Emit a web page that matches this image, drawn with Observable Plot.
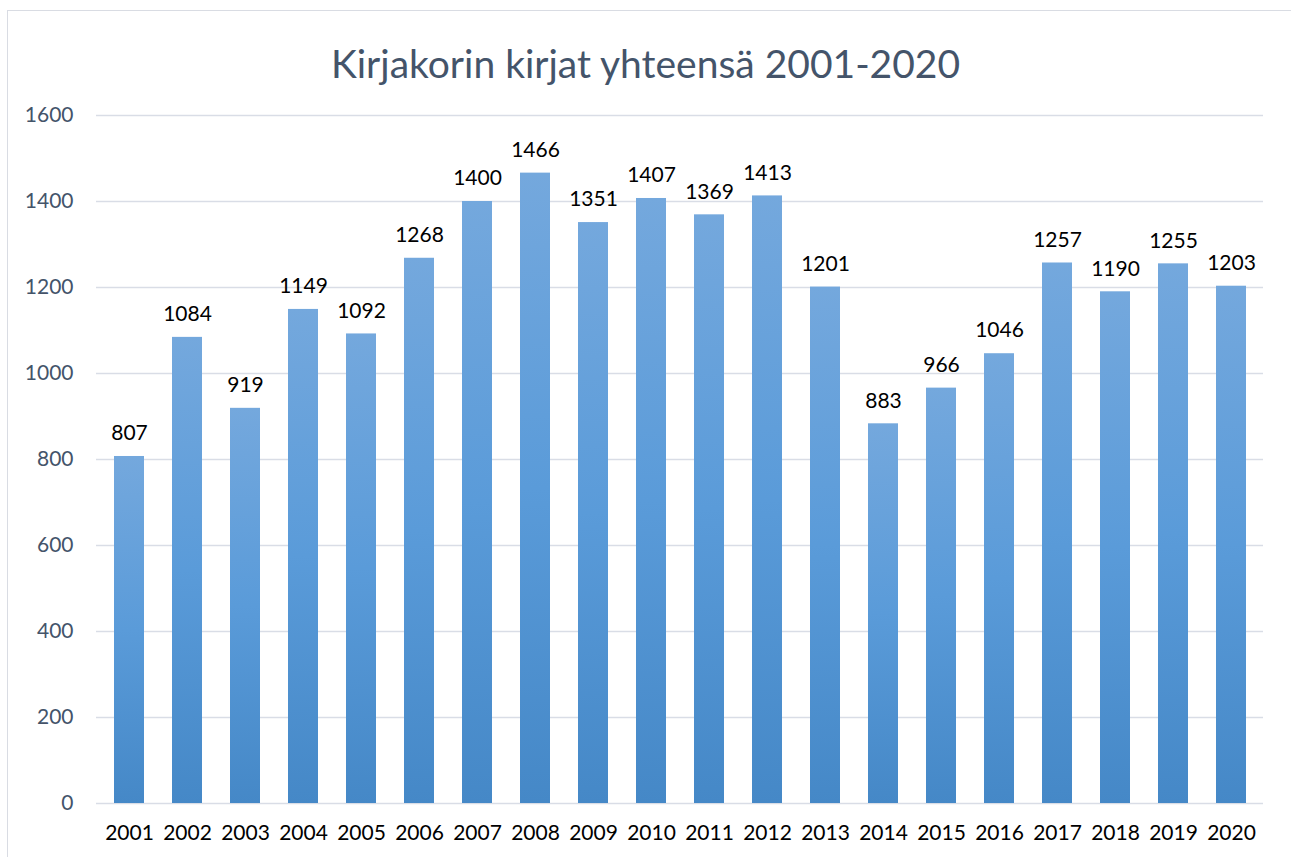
<!DOCTYPE html>
<html>
<head>
<meta charset="utf-8">
<script src="https://cdn.jsdelivr.net/npm/d3@7"></script>
<script src="https://cdn.jsdelivr.net/npm/@observablehq/plot@0.6"></script>
<style>
  html, body { margin: 0; padding: 0; background: #fff; width: 1291px; height: 857px; overflow: hidden; }
  #frame { position: absolute; left: 7px; top: 10px; width: 1300px; height: 870px; border: 1px solid #d9dce3; box-sizing: border-box; }
  #title { position: absolute; left: 0; width: 1291px; top: 38px; text-align: center; font-family: Lato, "Open Sans", sans-serif; font-size: 39px; color: #44546a; line-height: 50px; }
  #chart { position: absolute; left: 0; top: 95px; }
</style>
</head>
<body>
<div id="frame"></div>
<div id="title">Kirjakorin kirjat yhteensä 2001-2020</div>
<div id="chart"></div>
<script>
const years = ["2001","2002","2003","2004","2005","2006","2007","2008","2009","2010","2011","2012","2013","2014","2015","2016","2017","2018","2019","2020"];
const books = [807,1084,919,1149,1092,1268,1400,1466,1351,1407,1369,1413,1201,883,966,1046,1257,1190,1255,1203];
const yTicks = [0,200,400,600,800,1000,1200,1400,1600];

const data = years.map((y, i) => ({year: y, value: books[i]}));

const plot = Plot.plot({
  width: 1291,
  height: 762,
  marginLeft: 96,
  marginRight: 28,
  marginTop: 20,
  marginBottom: 54,
  style: {fontFamily: "Lato, 'Open Sans', sans-serif", background: "transparent"},
  x: {domain: years, paddingInner: 0.486, paddingOuter: 0.243, label: null},
  y: {domain: [0, 1600], ticks: yTicks, label: null},
  marks: [
    Plot.ruleY(yTicks, {stroke: "#d9dde6", strokeWidth: 1.5}),
    Plot.barY(data, {x: "year", y: "value", fill: "url(#barGrad)"}),
    Plot.text(data, {x: "year", y: "value", text: d => String(d.value), dy: -23, fontSize: 21, fill: "#000"}),
    Plot.axisY({ticks: yTicks, tickFormat: d => String(d), tickSize: 0, tickPadding: 23, fontSize: 21, color: "#44546a", label: null}),
    Plot.axisX({tickSize: 0, tickPadding: 22, fontSize: 21, color: "#000", label: null})
  ]
});

const ns = "http://www.w3.org/2000/svg";
const defs = document.createElementNS(ns, "defs");
const grad = document.createElementNS(ns, "linearGradient");
grad.setAttribute("id", "barGrad");
grad.setAttribute("x1", "0"); grad.setAttribute("y1", "0");
grad.setAttribute("x2", "0"); grad.setAttribute("y2", "1");
[["0%", "#74a8dd"], ["50%", "#5a9bd9"], ["100%", "#4588c7"]].forEach(([o, c]) => {
  const s = document.createElementNS(ns, "stop");
  s.setAttribute("offset", o); s.setAttribute("stop-color", c);
  grad.appendChild(s);
});
defs.appendChild(grad);
plot.insertBefore(defs, plot.firstChild);
document.getElementById("chart").appendChild(plot);
</script>
</body>
</html>
